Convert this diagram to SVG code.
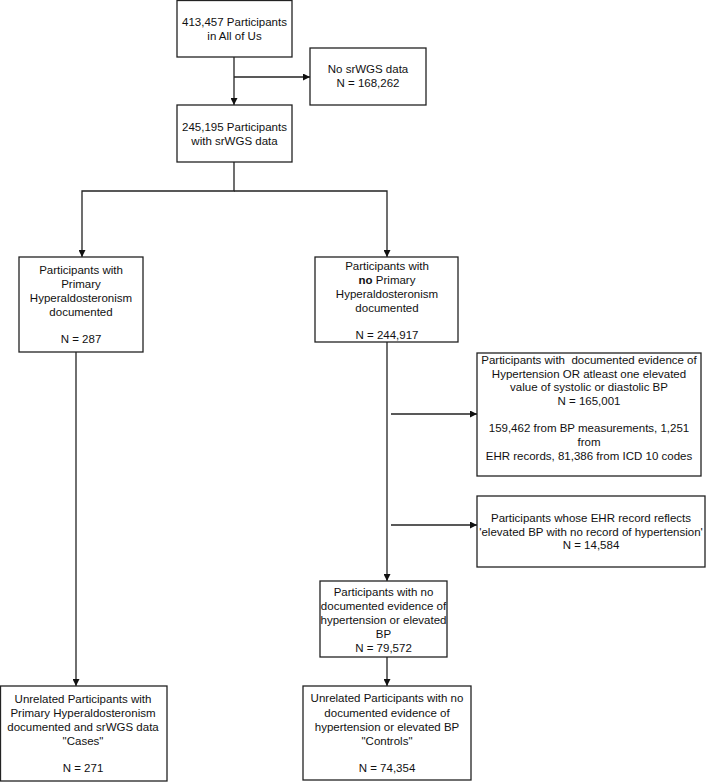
<svg xmlns="http://www.w3.org/2000/svg" width="706" height="782" viewBox="0 0 706 782">
<defs>
<style>
.box{fill:#fff;stroke:#222;stroke-width:1.3}
.ln{fill:none;stroke:#222;stroke-width:1.3}
text{font-family:"Liberation Sans",Arial,Helvetica,sans-serif;font-size:11.5px;fill:#111;text-anchor:middle}
</style>
<marker id="ah" viewBox="0 0 10 10" refX="10" refY="5" markerWidth="7" markerHeight="7" markerUnits="userSpaceOnUse" orient="auto">
<path d="M0,0 L10,5 L0,10 Z" fill="#111"/>
</marker>
</defs>
<rect width="706" height="782" fill="#fff"/>
<g id="connectors">
<path class="ln" d="M234,57 V105" marker-end="url(#ah)"/>
<path class="ln" d="M234,77 H310" marker-end="url(#ah)"/>
<path class="ln" d="M234,162 V191 H82 V257" marker-end="url(#ah)"/>
<path class="ln" d="M234,191 H387 V257" marker-end="url(#ah)"/>
<path class="ln" d="M76,352 V686" marker-end="url(#ah)"/>
<path class="ln" d="M387,342 V581" marker-end="url(#ah)"/>
<path class="ln" d="M391,414 H477" marker-end="url(#ah)"/>
<path class="ln" d="M391,525 H477" marker-end="url(#ah)"/>
<path class="ln" d="M387,657 V686" marker-end="url(#ah)"/>
</g>
<g id="n1">
<rect class="box" x="177" y="0.5" width="115" height="56.5"/>
<text x="234.5" y="26">413,457 Participants</text>
<text x="234.5" y="40">in All of Us</text>
</g>
<g id="n2">
<rect class="box" x="310" y="48" width="116" height="57"/>
<text x="368" y="73">No srWGS data</text>
<text x="368" y="87">N = 168,262</text>
</g>
<g id="n3">
<rect class="box" x="177" y="105" width="115" height="57"/>
<text x="234.5" y="131">245,195 Participants</text>
<text x="234.5" y="145">with srWGS data</text>
</g>
<g id="n4">
<rect class="box" x="19" y="257" width="124" height="95"/>
<text x="81" y="274">Participants with</text>
<text x="81" y="288">Primary</text>
<text x="81" y="302">Hyperaldosteronism</text>
<text x="81" y="316">documented</text>
<text x="81" y="343">N = 287</text>
</g>
<g id="n5">
<rect class="box" x="315" y="257" width="143" height="85"/>
<text x="387" y="270">Participants with</text>
<text x="387" y="284"><tspan font-weight="bold">no</tspan> Primary</text>
<text x="387" y="298">Hyperaldosteronism</text>
<text x="387" y="312">documented</text>
<text x="387" y="339">N = 244,917</text>
</g>
<g id="n6">
<rect class="box" x="477" y="353" width="224" height="123"/>
<text x="589" y="364" xml:space="preserve">Participants with  documented evidence of</text>
<text x="589" y="378">Hypertension OR atleast one elevated</text>
<text x="589" y="391">value of systolic or diastolic BP</text>
<text x="589" y="405">N = 165,001</text>
<text x="589" y="432">159,462 from BP measurements, 1,251</text>
<text x="589" y="446">from</text>
<text x="589" y="460">EHR records, 81,386 from ICD 10 codes</text>
</g>
<g id="n7">
<rect class="box" x="477" y="496" width="228" height="71"/>
<text x="591" y="522">Participants whose EHR record reflects</text>
<text x="591" y="536">'elevated BP with no record of hypertension'</text>
<text x="591" y="549">N = 14,584</text>
</g>
<g id="n8">
<rect class="box" x="320" y="581" width="127" height="76"/>
<text x="383.5" y="596">Participants with no</text>
<text x="383.5" y="610">documented evidence of</text>
<text x="383.5" y="624">hypertension or elevated</text>
<text x="383.5" y="638">BP</text>
<text x="383.5" y="652">N = 79,572</text>
</g>
<g id="n9">
<rect class="box" x="0.5" y="686" width="166.5" height="95"/>
<text x="83" y="703">Unrelated Participants with</text>
<text x="83" y="717">Primary Hyperaldosteronism</text>
<text x="83" y="731">documented and srWGS data</text>
<text x="83" y="745">"Cases"</text>
<text x="83" y="772">N = 271</text>
</g>
<g id="n10">
<rect class="box" x="303" y="686" width="168" height="94"/>
<text x="387" y="702">Unrelated Participants with no</text>
<text x="387" y="717">documented evidence of</text>
<text x="387" y="731">hypertension or elevated BP</text>
<text x="387" y="745">"Controls"</text>
<text x="387" y="772">N = 74,354</text>
</g>
</svg>
